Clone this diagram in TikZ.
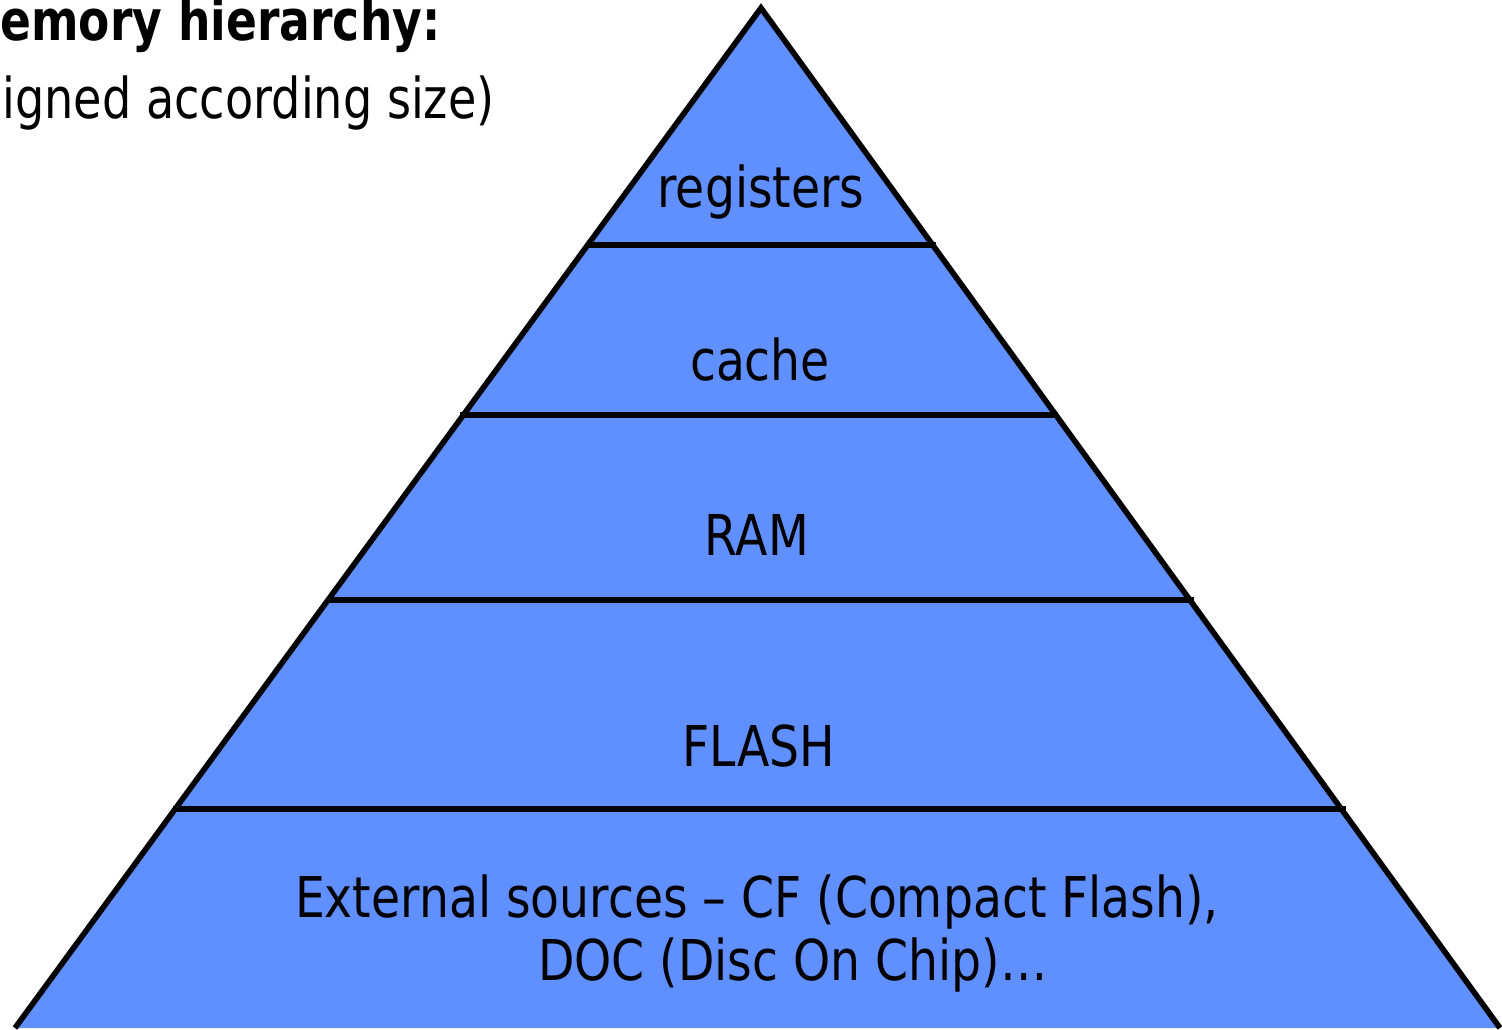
\documentclass[tikz,border=0pt]{standalone}
\usepackage{fontspec}
\setmainfont{DejaVu Sans}
\definecolor{layerblue}{HTML}{608FFF}
\tikzset{
  layer/.style={font=\fontsize{16}{19}\selectfont, transform shape, xscale=0.84, anchor=base, inner sep=0pt},
  headline/.style={font=\fontsize{16}{19}\selectfont\bfseries, transform shape, xscale=0.81, anchor=base west, inner sep=0pt},
  subline/.style={font=\fontsize{16}{19}\selectfont, transform shape, xscale=0.82, anchor=base west, inner sep=0pt},
  border/.style={line width=1.6pt}
}
\begin{document}
\begin{tikzpicture}[x=0.01cm,y=-0.01cm]
    \useasboundingbox (0,0) rectangle (1502,1030);

    % the pyramid
    \coordinate (top) at (761,8);
    \coordinate (bl) at (15,1028);
    \coordinate (br) at (1500,1028);
    \fill[layerblue] (bl) -- (top) -- (br) -- cycle;
    \draw[border, line join=miter] (bl) -- (top) -- (br);

    % borders between the layers
    \draw[border] (588,245) -- (936,245);
    \draw[border] (460,415) -- (1058,415);
    \draw[border] (328,600) -- (1194,600);
    \draw[border] (173,809) -- (1346,809);

    % layer names
    \draw (761,207) node[layer](reg) {registers};
    \draw (760,380) node[layer](cache) {cache};
    \draw (757,555) node[layer](ram) {RAM};
    \draw (759,766) node[layer](flash) {FLASH};
    \draw (757,917) node[layer](ext) {External sources -- CF (Compact Flash),};
    \draw (793,980) node[layer](doc) {DOC (Disc On Chip)\dots};

    % heading, cut at the left border
    \draw (0,40) node[headline](head) {emory hierarchy:};
    \draw (2,118) node[subline](sub) {igned according size)};
\end{tikzpicture}
\end{document}
